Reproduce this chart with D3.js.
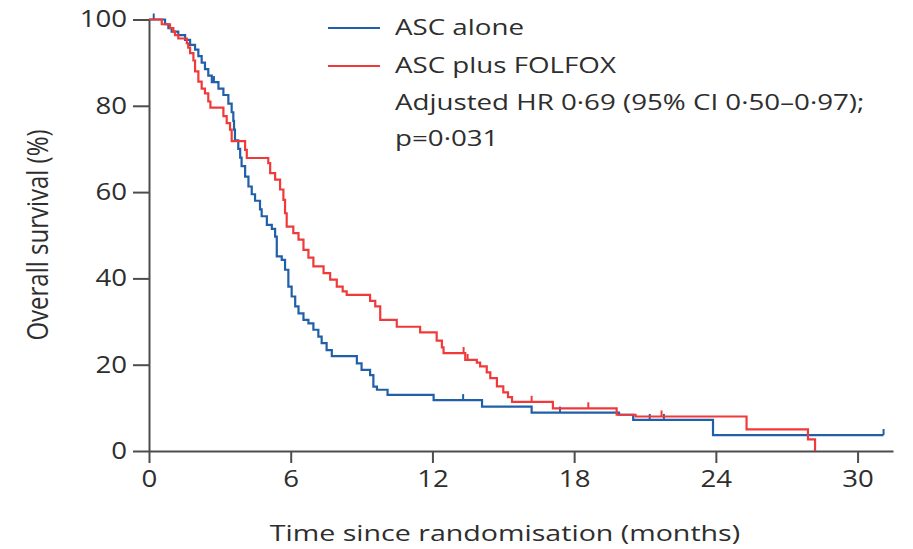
<!DOCTYPE html>
<html>
<head>
<meta charset="utf-8">
<script src="https://cdn.jsdelivr.net/npm/d3@7"></script>
<style>
  body { margin: 0; background: #fff; }
  svg text { font-family: "Open Sans", sans-serif; fill: #2e2e2e; }
</style>
</head>
<body>
<div id="chart"></div>
<script>
// Kaplan-Meier steps (months, % surviving after the step)
const ascTimes = [0.68, 0.82, 0.96, 1.24, 1.53, 1.74, 1.95, 2.09, 2.23, 2.37, 2.51, 2.66, 2.94, 3.15, 3.36, 3.5, 3.57, 3.6, 3.64, 3.78,
  3.86, 3.92, 4.07, 4.21, 4.35, 4.49, 4.7, 4.77, 4.99, 5.2, 5.34, 5.41, 5.62, 5.76, 5.9, 6.04, 6.19, 6.33, 6.54, 6.75,
  6.96, 7.17, 7.31, 7.52, 7.74, 8.8, 9.0, 9.36, 9.5, 9.65, 10.1, 12.05, 14.1, 16.2, 19.9, 20.5, 23.88];
const ascSurv = [98.9, 98.0, 97.2, 96.4, 95.3, 94.1, 93.0, 91.5, 90.0, 88.5, 87.0, 85.5, 84.0, 82.5, 80.5, 78.5, 76.5, 74.5, 72.0, 70.0,
  68.0, 66.0, 63.6, 61.3, 59.5, 58.0, 56.0, 54.4, 52.4, 51.5, 49.7, 45.1, 44.3, 42.0, 38.1, 35.8, 33.5, 31.9, 30.4, 29.6,
  28.1, 26.5, 25.0, 23.4, 22.0, 20.3, 18.8, 17.6, 14.9, 14.2, 13.0, 11.8, 10.3, 8.9, 8.4, 7.2, 3.7];
const ascCensor = [0.2, 2.75, 13.3, 17.4, 21.2, 21.8, 31.1];
const ascEnd = 31.1;

const folfoxTimes = [0.54, 0.89, 1.03, 1.1, 1.24, 1.6, 1.66, 1.74, 1.88, 1.95, 2.09, 2.23, 2.37, 2.51, 2.6, 3.15, 3.29, 3.43, 3.5, 4.07,
  4.14, 5.05, 5.13, 5.34, 5.55, 5.69, 5.76, 5.83, 6.11, 6.33, 6.54, 6.75, 6.96, 7.39, 7.67, 7.95, 8.2, 8.37, 9.36, 9.58,
  9.79, 10.49, 11.48, 12.18, 12.4, 12.47, 13.39, 13.88, 14.02, 14.3, 14.45, 14.73, 15.0, 15.2, 15.37, 17.1, 19.8, 20.6, 25.3, 27.9, 28.2];
const folfoxSurv = [98.9, 98.0, 97.2, 96.4, 95.6, 94.5, 93.5, 92.2, 90.5, 88.0, 85.6, 84.0, 82.9, 81.0, 79.6, 77.6, 76.0, 74.5, 71.8, 69.8,
  67.9, 66.7, 64.4, 62.9, 60.6, 58.2, 55.1, 52.0, 50.5, 49.0, 46.6, 44.8, 42.8, 41.2, 39.7, 38.1, 37.0, 36.2, 34.8, 33.5,
  30.4, 28.8, 27.5, 25.6, 24.0, 22.7, 21.1, 20.5, 19.6, 18.2, 16.9, 15.0, 13.6, 12.5, 11.4, 9.9, 8.4, 8.0, 5.0, 2.7, 0];
const folfoxCensor = [13.32, 13.49, 16.2, 18.6, 21.7];
const folfoxEnd = 28.2;

const xTicks = [0, 6, 12, 18, 24, 30];
const yTicks = [0, 20, 40, 60, 80, 100];
const legendLabels = ['ASC alone', 'ASC plus FOLFOX'];
const noteLines = ['Adjusted HR 0\u00b769 (95% CI 0\u00b750\u20130\u00b797);', 'p=0\u00b7031'];

const W = 913, H = 549;
const STRETCH = 1.2; // the printed figure's lettering is wide
const colors = ['#2060a8', '#f03a3a'];
const axisColor = '#4d4d4d';

const svg = d3.select('#chart').append('svg')
  .attr('width', W)
  .attr('height', H);

const x = d3.scaleLinear().domain([0, 31.5]).range([149, 893]);
const y = d3.scaleLinear().domain([0, 100]).range([451, 19.5]);

// Ejes
const xAxis = svg.append('g')
  .attr('transform', `translate(0,${y(0)})`)
  .call(d3.axisBottom(x).tickValues(xTicks).tickSize(12).tickSizeOuter(0).tickPadding(8));
xAxis.selectAll('text')
  .attr('font-size', '23px')
  .attr('transform', `scale(${STRETCH},1)`);

const yAxis = svg.append('g')
  .attr('transform', `translate(${x(0)},0)`)
  .call(d3.axisLeft(y).tickValues(yTicks).tickSize(16).tickSizeOuter(0));
yAxis.selectAll('text')
  .attr('font-size', '23px')
  .attr('x', 0)
  .attr('transform', `translate(-22,0) scale(${STRETCH},1)`);

svg.selectAll('.domain, .tick line')
  .attr('stroke', axisColor)
  .attr('stroke-width', 2);

// Etiquetas de ejes
svg.append('text')
  .attr('transform', 'translate(505,541) scale(1.3,1)')
  .attr('text-anchor', 'middle')
  .attr('font-size', '22px')
  .text('Time since randomisation (months)');

svg.append('text')
  .attr('transform', `translate(38,235) rotate(-90) scale(1,${STRETCH})`)
  .attr('text-anchor', 'middle')
  .attr('dy', '0.35em')
  .attr('font-size', '24px')
  .text('Overall survival (%)');

// Curvas
function stepsOf(times, surv, end) {
  const pts = [[0, 100]];
  times.forEach((t, i) => pts.push([t, surv[i]]));
  const last = pts[pts.length - 1];
  if (end > last[0]) pts.push([end, last[1]]);
  return pts;
}

function survAt(times, surv, t) {
  let v = 100;
  times.forEach((tt, i) => { if (tt <= t) v = surv[i]; });
  return v;
}

const line = d3.line()
  .x(d => x(d[0]))
  .y(d => y(d[1]))
  .curve(d3.curveStepAfter);

const groups = [
  { times: ascTimes, surv: ascSurv, censor: ascCensor, end: ascEnd },
  { times: folfoxTimes, surv: folfoxSurv, censor: folfoxCensor, end: folfoxEnd },
];

groups.forEach((g, k) => {
  svg.append('path')
    .datum(stepsOf(g.times, g.surv, g.end))
    .attr('d', line)
    .attr('fill', 'none')
    .attr('stroke', colors[k])
    .attr('stroke-width', 2.2);

  // marcas de censura
  svg.selectAll(null)
    .data(g.censor)
    .enter()
    .append('line')
    .attr('x1', d => x(d))
    .attr('x2', d => x(d))
    .attr('y1', d => y(survAt(g.times, g.surv, d)))
    .attr('y2', d => y(survAt(g.times, g.surv, d)) - 6)
    .attr('stroke', colors[k])
    .attr('stroke-width', 2);
});

// Leyenda
const legendY = [28, 66];
const baselines = [35, 73, 110, 146];
legendLabels.forEach((label, i) => {
  svg.append('line')
    .attr('x1', 328).attr('x2', 380)
    .attr('y1', legendY[i]).attr('y2', legendY[i])
    .attr('stroke', colors[i])
    .attr('stroke-width', 2);
});
legendLabels.concat(noteLines).forEach((label, i) => {
  svg.append('text')
    .attr('transform', `translate(395,${baselines[i]}) scale(1.26,1)`)
    .attr('font-size', '22px')
    .text(label);
});
</script>
</body>
</html>
